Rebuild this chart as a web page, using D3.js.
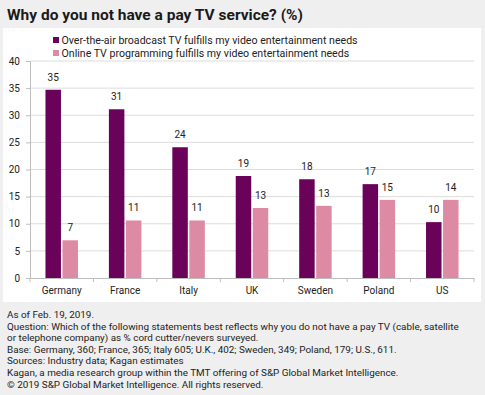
<!DOCTYPE html>
<html><head><meta charset="utf-8">
<script src="https://cdn.jsdelivr.net/npm/d3@7"></script>
<style>
html,body{margin:0;padding:0;background:#efefef;}
svg{display:block;font-family:Roboto,"Liberation Sans",Arial,sans-serif;}
</style></head>
<body>
<svg id="chart" width="485" height="395"></svg>
<script>
const title = "Why do you not have a pay TV service? (%)";
const categories = ["Germany","France","Italy","UK","Sweden","Poland","US"];
const seriesNames = [
  "Over-the-air broadcast TV fulfills my video entertainment needs",
  "Online TV programming fulfills my video entertainment needs"
];
const overTheAir = [34.7, 31.1, 24.1, 18.8, 18.2, 17.3, 10.3];
const onlineTV   = [6.95, 10.6, 10.6, 12.9, 13.3, 14.4, 14.4];
const overTheAirLabels = [35, 31, 24, 19, 18, 17, 10];
const onlineTVLabels   = [7, 11, 11, 13, 13, 15, 14];
const yTicks = [0,5,10,15,20,25,30,35,40];
const footnotes = [
  "As of Feb. 19, 2019.",
  "Question: Which of the following statements best reflects why you do not have a pay TV (cable, satellite",
  "or telephone company) as % cord cutter/nevers surveyed.",
  "Base: Germany, 360; France, 365; Italy 605; U.K., 402; Sweden, 349; Poland, 179; U.S., 611.",
  "Sources: Industry data; Kagan estimates",
  "Kagan, a media research group within the TMT offering of S&P Global Market Intelligence.",
  "\u00a9 2019 S&P Global Market Intelligence. All rights reserved."
];
const colors = ["#690258", "#dd8ba5"];

const svg = d3.select("#chart");
// white panel
svg.append("rect").attr("x",3).attr("y",28).attr("width",478).attr("height",274).attr("fill","#fff");

svg.append("text").attr("x",7).attr("y",20).attr("font-size",15.5).attr("font-weight","bold")
  .attr("fill","#1a1a1a").text(title);

const m = {left:30, right:474, top:61, bottom:278};
const x = d3.scaleBand().domain(categories).range([m.left, m.right]).paddingInner(0).paddingOuter(0);
const y = d3.scaleLinear().domain([0,40]).range([m.bottom, m.top]);

// gridlines
svg.append("g").selectAll("line").data(yTicks.filter(d=>d>0)).join("line")
  .attr("x1",m.left).attr("x2",m.right).attr("y1",d=>y(d)).attr("y2",d=>y(d))
  .attr("stroke","#dcdcdc").attr("stroke-width",1);

// y axis
const yAxis = svg.append("g").attr("transform",`translate(${m.left},0)`)
  .call(d3.axisLeft(y).tickValues(yTicks).tickSize(4).tickPadding(6));
yAxis.select(".domain").attr("stroke","#bdbdbd");
yAxis.selectAll(".tick line").attr("stroke","#bdbdbd");
yAxis.selectAll("text").attr("font-size",10).attr("fill","#222").attr("font-family","Roboto,sans-serif");

// x axis
const xAxis = svg.append("g").attr("transform",`translate(0,${m.bottom})`)
  .call(d3.axisBottom(x).tickSize(0).tickPadding(9));
xAxis.select(".domain").attr("stroke","#bdbdbd");
xAxis.selectAll("text").attr("font-size",10).attr("fill","#222").attr("font-family","Roboto,sans-serif");
// boundary ticks
const bounds = categories.map(c=>x(c)).concat([x(categories[categories.length-1])+x.bandwidth()]);
svg.append("g").selectAll("line").data(bounds).join("line")
  .attr("x1",d=>d).attr("x2",d=>d).attr("y1",m.bottom).attr("y2",m.bottom+4)
  .attr("stroke","#bdbdbd");

const x1 = d3.scaleBand().domain([0,1]).range([0, 32.5]).paddingInner(0.09);
const groupOffset = (x.bandwidth()-32.5)/2;
const series = [overTheAir, onlineTV];
const labels = [overTheAirLabels, onlineTVLabels];

series.forEach((vals, si) => {
  const g = svg.append("g");
  g.selectAll("rect").data(vals).join("rect")
    .attr("x",(d,i)=>x(categories[i])+groupOffset+x1(si))
    .attr("y",d=>y(d)).attr("width",x1.bandwidth()).attr("height",d=>y(0)-y(d))
    .attr("fill",colors[si]);
  g.selectAll("text").data(vals).join("text")
    .attr("x",(d,i)=>x(categories[i])+groupOffset+x1(si)+x1.bandwidth()/2)
    .attr("y",d=>y(d)-9).attr("text-anchor","middle").attr("font-size",10).attr("fill","#222")
    .text((d,i)=>labels[si][i]);
});

// legend
const leg = svg.append("g");
seriesNames.forEach((n,i)=>{
  leg.append("rect").attr("x",53).attr("y",37+i*13).attr("width",6).attr("height",6).attr("fill",colors[i]);
  leg.append("text").attr("x",61.5).attr("y",44+i*13).attr("font-size",10.6).attr("fill","#222").text(n);
});

// footnotes
svg.append("g").selectAll("text").data(footnotes).join("text")
  .attr("x",7).attr("y",(d,i)=>318+i*11.6).attr("font-size",9.9).attr("fill","#222").text(d=>d);
</script>
</body></html>
